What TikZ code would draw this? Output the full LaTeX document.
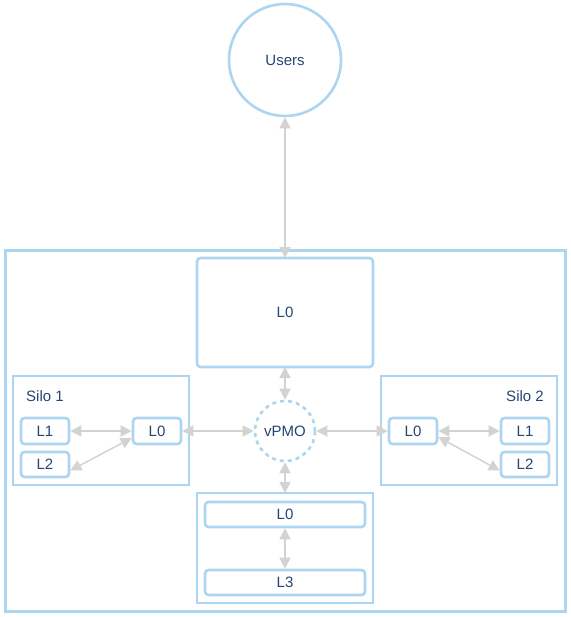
\documentclass[tikz,border=0pt]{standalone}
\usepackage{fontspec}
\setmainfont{Liberation Sans}
\usetikzlibrary{arrows.meta}
\definecolor{bstroke}{RGB}{171,213,240}
\definecolor{btext}{RGB}{35,70,115}
\definecolor{agray}{RGB}{211,211,211}
\begin{document}
\begin{tikzpicture}[x=1pt,y=-1pt,
  box/.style={draw=bstroke,line width=2.6pt,rounded corners=3.5pt},
  frame/.style={draw=bstroke,line width=2.6pt},
  lbl/.style={text=btext,font=\fontsize{15}{17}\selectfont},
  conn/.style={draw=agray,line width=1.5pt,{Triangle[length=11pt,width=11pt]}-{Triangle[length=11pt,width=11pt]}}]
\useasboundingbox (0,0) rectangle (570,617);
% users
\node[circle,draw=bstroke,line width=2.6pt,minimum size=112pt,lbl] (users) at (285,60) {Users};
% outer frame
\draw[frame,line width=3pt] (5,250) rectangle (565,611);
% top L0
\draw[box] (197,258) rectangle (373,367);
\node[lbl] (topL0) at (285,312.5) {L0};
\coordinate (topL0t) at (285,258);
\coordinate (topL0b) at (285,367);
% silo 1
\draw[frame] (13,376) rectangle (189,485);
\node[lbl] (s1lab) at (45,396) {Silo 1};
\node[box,lbl,minimum width=48pt,minimum height=26pt,inner sep=0pt] (s1L1) at (45,431) {L1};
\node[box,lbl,minimum width=48pt,minimum height=25pt,inner sep=0pt] (s1L2) at (45,464.5) {L2};
\node[box,lbl,minimum width=48pt,minimum height=26pt,inner sep=0pt] (s1L0) at (157,431) {L0};
% silo 2
\draw[frame] (381,376) rectangle (557,485);
\node[lbl] (s2lab) at (525,396) {Silo 2};
\node[box,lbl,minimum width=48pt,minimum height=26pt,inner sep=0pt] (s2L0) at (413,431) {L0};
\node[box,lbl,minimum width=48pt,minimum height=26pt,inner sep=0pt] (s2L1) at (525,431) {L1};
\node[box,lbl,minimum width=48pt,minimum height=25pt,inner sep=0pt] (s2L2) at (525,464.5) {L2};
% vPMO
\node[circle,draw=bstroke,line width=2.6pt,dash pattern=on 4pt off 4pt,minimum size=60pt,inner sep=0pt,lbl] (vpmo) at (285,431) {vPMO};
% bottom
\draw[frame] (197,493) rectangle (373,603);
\coordinate (botT) at (285,493);
\node[box,lbl,minimum width=160pt,minimum height=25pt,inner sep=0pt] (bL0) at (285,514.5) {L0};
\node[box,lbl,minimum width=160pt,minimum height=25pt,inner sep=0pt] (bL3) at (285,582.5) {L3};
% connectors
\draw[conn] (users.south) -- (topL0t);
\draw[conn] (topL0b) -- (vpmo.north);
\draw[conn] (vpmo.south) -- (botT);
\draw[conn] (s1L0.east) -- (vpmo.west);
\draw[conn] (vpmo.east) -- (s2L0.west);
\draw[conn] (s1L1.east) -- (s1L0.west);
\draw[conn] ([yshift=-6pt]s1L2.east) -- ([yshift=-7pt]s1L0.west);
\draw[conn] (s2L0.east) -- (s2L1.west);
\draw[conn] ([yshift=-6pt]s2L0.east) -- ([yshift=-6pt]s2L2.west);
\draw[conn] (bL0.south) -- (bL3.north);
\end{tikzpicture}
\end{document}
